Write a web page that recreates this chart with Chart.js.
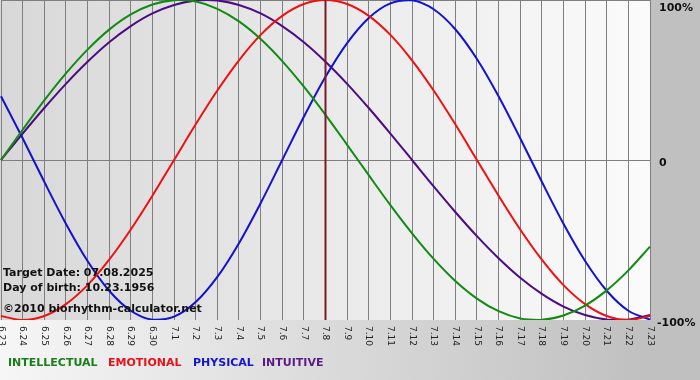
<!DOCTYPE html>
<html><head><meta charset="utf-8">
<script src="https://cdn.jsdelivr.net/npm/chart.js@4"></script>
<style>
html,body{margin:0;padding:0;}
body{width:700px;height:380px;overflow:hidden;background:linear-gradient(to right,#f6f6f6 0%,#c0c0c0 92%);}
#wrap{position:relative;width:700px;height:380px;}
canvas{display:block;}
</style></head>
<body><div id="wrap"><canvas id="c" width="700" height="380"></canvas></div>
<script>
const categories = ['6.23','6.24','6.25','6.26','6.27','6.28','6.29','6.30','7.1','7.2','7.3','7.4','7.5','7.6','7.7','7.8','7.9','7.10','7.11','7.12','7.13','7.14','7.15','7.16','7.17','7.18','7.19','7.20','7.21','7.22','7.23'];
const intellectual = [0, 18.9, 37.2, 54.1, 69.0, 81.5, 91.0, 97.2, 99.9, 99.0, 94.5, 86.6, 75.6, 61.8, 45.8, 28.2, 9.5, -9.5, -28.2, -45.8, -61.8, -75.6, -86.6, -94.5, -99.0, -99.9, -97.2, -91.0, -81.5, -69.0, -54.1];
const emotional = [-97.5, -100, -97.5, -90.1, -78.2, -62.3, -43.4, -22.3, 0, 22.3, 43.4, 62.3, 78.2, 90.1, 97.5, 100, 97.5, 90.1, 78.2, 62.3, 43.4, 22.3, 0, -22.3, -43.4, -62.3, -78.2, -90.1, -97.5, -100, -97.5];
const physical = [39.8, 13.6, -13.6, -39.8, -63.1, -81.7, -94.2, -99.8, -97.9, -88.8, -73.1, -52.0, -27.0, 0, 27.0, 52.0, 73.1, 88.8, 97.9, 99.8, 94.2, 81.7, 63.1, 39.8, 13.6, -13.6, -39.8, -63.1, -81.7, -94.2, -99.8];
const intuitive = [0, 16.5, 32.5, 47.6, 61.4, 73.6, 83.7, 91.6, 96.9, 99.7, 99.7, 96.9, 91.6, 83.7, 73.6, 61.4, 47.6, 32.5, 16.5, 0, -16.5, -32.5, -47.6, -61.4, -73.6, -83.7, -91.6, -96.9, -99.7, -99.7, -96.9];
const yTickValues = [100, 0, -100];
const yTickLabels = ['100%', '0', '-100%'];
const seriesNames = ['INTELLECTUAL', 'EMOTIONAL', 'PHYSICAL', 'INTUITIVE'];
const targetCategory = '7.8';
const infoLines = ['Target Date: 07.08.2025', 'Day of birth: 10.23.1956', '\u00A92010 biorhythm-calculator.net'];

const lineColors = ['#138a13', '#f01010', '#1212d0', '#4c0c84'];
const legendColors = ['#1a7d1a', '#e8101a', '#1515cf', '#5b1a87'];

const decor = {
  id: 'decor',
  beforeDraw(chart) {
    const {ctx, chartArea: a} = chart;
    const g = ctx.createLinearGradient(a.left, 0, a.right, 0);
    g.addColorStop(0, '#d8d8d8');
    g.addColorStop(1, '#fbfbfb');
    ctx.save();
    ctx.fillStyle = g;
    ctx.fillRect(0, a.top, a.right, a.bottom - a.top);
    ctx.restore();
  },
  afterDatasetsDraw(chart) {
    const {ctx, chartArea: a, scales: {x}} = chart;
    const px = x.getPixelForValue(categories.indexOf(targetCategory));
    ctx.save();
    ctx.strokeStyle = '#7a1c28';
    ctx.lineWidth = 2;
    ctx.beginPath();
    ctx.moveTo(px, a.top);
    ctx.lineTo(px, a.bottom);
    ctx.stroke();
    ctx.restore();
  },
  afterDraw(chart) {
    const {ctx, chartArea: a, scales: {x, y}} = chart;
    ctx.save();
    // x tick labels, rotated clockwise
    ctx.font = '9px "DejaVu Sans"';
    ctx.fillStyle = '#222';
    ctx.textAlign = 'left';
    ctx.textBaseline = 'middle';
    categories.forEach((lab, i) => {
      const px = x.getPixelForValue(i);
      ctx.save();
      ctx.translate(px, a.bottom + 6);
      ctx.rotate(Math.PI / 2);
      ctx.fillText(lab, 0, 0);
      ctx.restore();
    });
    // y tick labels on the right
    ctx.font = 'bold 11px "DejaVu Sans"';
    ctx.fillStyle = '#111';
    ctx.textBaseline = 'alphabetic';
    yTickValues.forEach((v, i) => {
      const py = Math.max(y.getPixelForValue(v) + 6, 11);
      const lx = yTickLabels[i].startsWith('-') ? a.right + 7 : a.right + 9;
      ctx.fillText(yTickLabels[i], lx, py);
    });
    // info text
    const base = [276, 291, 312];
    infoLines.forEach((t, i) => ctx.fillText(t, 3, base[i]));
    // legend
    const lx = [8, 108, 193, 262];
    seriesNames.forEach((n, i) => {
      ctx.fillStyle = legendColors[i];
      ctx.fillText(n, lx[i], 366);
    });
    ctx.restore();
  }
};

const series = [intellectual, emotional, physical, intuitive];
new Chart(document.getElementById('c'), {
  type: 'line',
  data: {
    labels: categories,
    datasets: series.map((d, i) => ({
      label: seriesNames[i],
      data: d,
      borderColor: lineColors[i],
      borderWidth: 2,
      pointRadius: 0,
      tension: 0.33,
      fill: false
    }))
  },
  options: {
    responsive: false,
    animation: false,
    devicePixelRatio: 1,
    layout: {autoPadding: false, padding: {left: 1, right: 50, top: 0, bottom: 60}},
    plugins: {legend: {display: false}, tooltip: {enabled: false}},
    scales: {
      x: {
        offset: false,
        ticks: {display: false},
        border: {display: false},
        grid: {color: '#7f7f7f', lineWidth: 1, drawTicks: false}
      },
      y: {
        position: 'right',
        min: -100, max: 100,
        afterBuildTicks(scale) { scale.ticks = yTickValues.map(v => ({value: v})); },
        ticks: {display: false},
        border: {display: false},
        grid: {color: ctx => ctx.tick && ctx.tick.value === -100 ? 'rgba(0,0,0,0)' : '#7f7f7f', lineWidth: 1, drawTicks: false}
      }
    }
  },
  plugins: [decor]
});
</script>
</body></html>
